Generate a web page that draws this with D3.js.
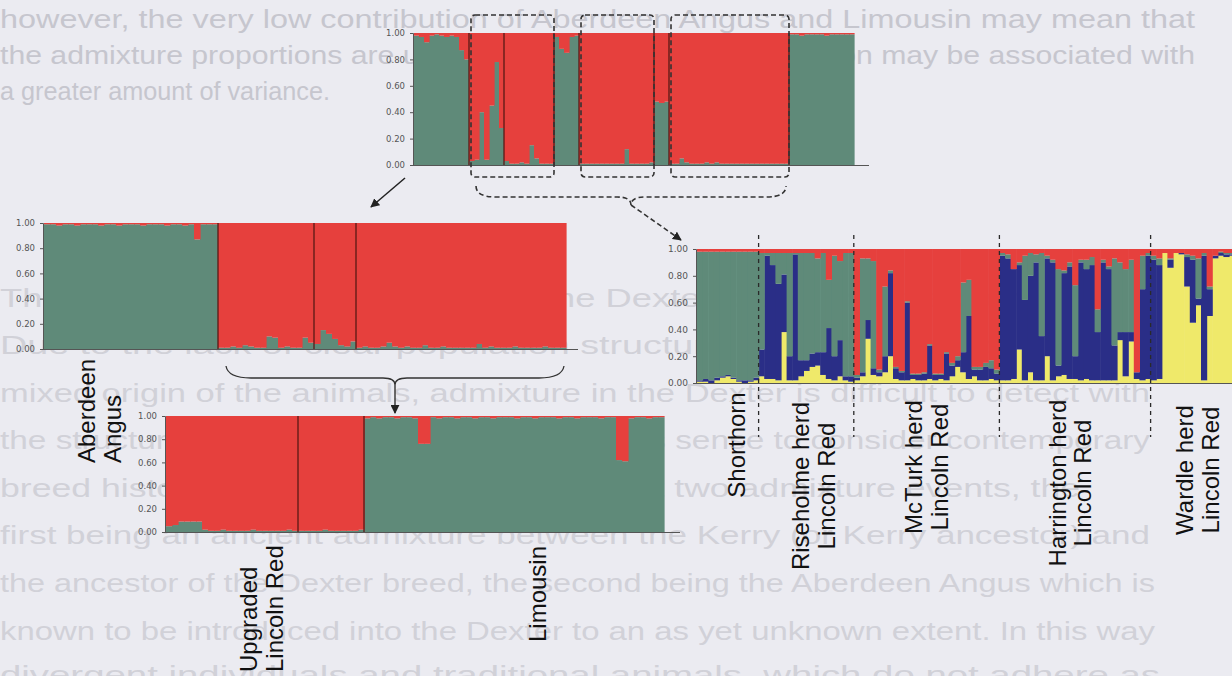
<!DOCTYPE html>
<html>
<head>
<meta charset="utf-8">
<script src="https://cdn.jsdelivr.net/npm/d3@7/dist/d3.min.js"></script>
<style>
  body { margin: 0; background: #ebebf1; }
  svg { display: block; }
</style>
</head>
<body>
<svg id="fig" width="1232" height="676"></svg>
<script>
// ---- data -------------------------------------------------------------
// tick labels shared by all four STRUCTURE plots
var tickLabels = ["0.00", "0.20", "0.40", "0.60", "0.80", "1.00"];

// top plot (K=2): green share per individual, red is the rest
var topGreen = [.98, .97, .93, .98, .99, .98, .97, .98, .97, .87, .80,
  .03, .04, .40, .04, .45, .78, .28,
  .03, .01, .01, .02, .01, .15, .05, .01, .01, .01,
  .97, .88, .85, .97, .98,
  .01, .01, .01, .01, .01, .01, .01, .01, .01, .12, .01, .01, .01, .01, .02,
  .48, .47, .48,
  .01, .01, .05, .02, .01, .01, .01, .02, .01, .02, .01, .01, .01, .01, .01, .01, .01, .01, .01, .01, .01, .01, .01, .01,
  .99, .99, .98, .99, .99, .99, .99, .98, .99, .99, .99, .99, .99];
var topBreaks = [11, 18, 28, 33, 48, 51, 75];

// middle plot: Aberdeen Angus + Lincoln Red herds
var midGreen = [.99, .99, .98, .99, .99, .98, .99, .99, .99, .98, .99, .99, .98, .99, .99,
  .99, .98, .99, .99, .99, .98, .99, .99, .98, .99, .87, .99, .99, .99,
  .01, .01, .02, .01, .03, .02, .01, .01, .10, .09, .01, .02, .01, .01, .09, .05,
  .04, .15, .12, .08, .03, .02, .06,
  .01, .02, .01, .01, .02, .05, .02, .01, .02, .01, .01, .03,
  .01, .01, .02, .01, .01, .01, .01, .01, .04,
  .01, .02, .01, .01, .01, .02, .01, .01, .01, .01, .02, .01, .01, .01];
var midBreaks = [29, 45, 52];

// lower plot: Upgraded Lincoln Red + Limousin
var lowGreen = [.05, .06, .09, .09, .09, .09, .02, .01, .01, .02, .01, .01, .01, .01, .02, .01, .01,
  .01, .01, .01, .02, .01, .01, .01, .01, .01, .02, .01, .01, .01, .01, .01, .02,
  .98, .99, .98, .99, .99, .98, .99, .99, .98, .76, .76, .99, .98, .99, .99, .98, .99, .99,
  .98, .99, .99, .98, .99, .99, .99, .98, .99, .99, .98, .99, .99, .99, .98, .99, .99,
  .98, .99, .99, .99, .98, .99, .99, .62, .61, .98, .99, .99, .98, .99, .99];
var lowBreaks = [22, 33];

// right plot (K=4): Shorthorn, Riseholme, McTurk, Harrington, Wardle
var herdSizes = [11, 17, 26, 27, 18];
var rightYellow = [
  .01, .01, .00, .02, .04, .05, .03, .01, .00, .01, .02,
  .05, .03, .03, .02, .38, .02, .02, .05, .09, .12, .13, .06, .03, .02, .05, .02, .01,
  .02, .05, .33, .06, .05, .08, .20, .03, .02, .02, .03, .02, .02, .03, .02, .03, .02, .05, .12, .08, .03, .05, .02, .02, .03, .02,
  .02, .02, .03, .25, .02, .08, .02, .02, .20, .02, .05, .06, .03, .03, .02, .03, .02, .02, .02, .02, .02, .32, .05, .31, .03, .02, .03,
  .02, .03, .97, .86, .97, .96, .72, .45, .58, .02, .50, .93, .95, .94, .95, .93, .95, .96];
var rightBlue = [
  .01, .02, .02, .02, .01, .01, .01, .01, .02, .01, .02,
  .20, .92, .85, .72, .43, .18, .94, .12, .08, .10, .10, .17, .38, .18, .27, .03, .04,
  .02, .03, .14, .05, .03, .12, .62, .08, .06, .58, .03, .04, .05, .25, .04, .03, .20, .08, .05, .15, .47, .05, .08, .10, .08, .05,
  .93, .91, .82, .63, .60, .72, .88, .33, .73, .88, .08, .76, .84, .17, .88, .82, .86, .36, .88, .83, .26, .06, .33, .07, .05, .68, .92,
  .90, .85, .00, .06, .00, .01, .22, .47, .05, .93, .20, .02, .02, .02, .01, .03, .02, .01];
var rightGreen = [
  .96, .95, .96, .94, .93, .92, .94, .96, .96, .96, .94,
  .72, .02, .09, .23, .16, .77, .01, .80, .80, .75, .70, .74, .36, .75, .59, .92, .92,
  .02, .85, .46, .80, .02, .52, .02, .01, .01, .01, .01, .01, .01, .01, .01, .01, .01, .02, .03, .52, .27, .02, .02, .03, .06, .03,
  .02, .03, .00, .02, .33, .17, .06, .62, .02, .02, .72, .02, .03, .53, .02, .07, .06, .17, .02, .02, .65, .52, .47, .54, .00, .25, .02,
  .03, .05, .00, .01, .00, .00, .02, .03, .30, .02, .02, .00, .01, .01, .01, .01, .01, .01];

var herdLabels = [["Shorthorn"], ["Riseholme herd", "Lincoln Red"], ["McTurk herd", "Lincoln Red"],
  ["Harrington herd", "Lincoln Red"], ["Wardle herd", "Lincoln Red"]];
var breedLabels = [["Aberdeen", "Angus"], ["Upgraded", "Lincoln Red"], ["Limousin"]];

// faint text of the thesis page showing through behind the figure
var pageLines = [
  "however, the very low contribution of Aberdeen Angus and Limousin may mean that",
  "the admixture proportions are underestimated as any contribution may be associated with",
  "a greater amount of variance.",
  "The pattern of admixture found in the Dexter breed is more complex.",
  "Due to the lack of clear population structure within the breed, and the",
  "mixed origin of the animals, admixture in the Dexter is difficult to detect with",
  "the structure methods. In the Dexter it makes sense to consider contemporary",
  "breed history, which would include at least two admixture events, the",
  "first being an ancient admixture between the Kerry (or Kerry ancestor) and",
  "the ancestor of the Dexter breed, the second being the Aberdeen Angus which is",
  "known to be introduced into the Dexter to an as yet unknown extent. In this way",
  "divergent individuals and traditional animals, which do not adhere as"
];

// ---- drawing ------------------------------------------------------------
var colour = { y: "#efe96b", b: "#2b2f87", g: "#5e8a79", r: "#e6403d" };
var tickValues = tickLabels.map(function (t) { return parseFloat(t); });
var svg = d3.select("#fig");

svg.append("rect").attr("width", 1232).attr("height", 676).attr("fill", "#ebebf1");

var defs = svg.append("defs");
defs.append("marker")
  .attr("id", "head").attr("viewBox", "0 0 10 10")
  .attr("refX", 9).attr("refY", 5)
  .attr("markerWidth", 9).attr("markerHeight", 9)
  .attr("markerUnits", "userSpaceOnUse")
  .attr("orient", "auto")
  .append("path").attr("d", "M0,0L10,5L0,10z").attr("fill", "#222");
// the original is a scan, soften the bars a little
defs.append("filter").attr("id", "soft")
  .append("feGaussianBlur").attr("stdDeviation", 0.5);

// page text (bleed through)
var pageY = [28, 64, 100, 307, 354, 402, 449, 497, 544, 592, 640, 684];
var pageW = [1195, 1195, 330, 1100, 1150, 1150, 1150, 1080, 1150, 1155, 1155, 1160];
svg.append("g").selectAll("text").data(pageLines).enter().append("text")
  .attr("x", 0)
  .attr("y", function (d, i) { return pageY[i]; })
  .attr("textLength", function (d, i) { return pageW[i]; })
  .attr("lengthAdjust", "spacingAndGlyphs")
  .attr("font-family", "Liberation Sans, Arial, sans-serif")
  .attr("font-size", 25)
  .attr("fill", function (d, i) { return i < 3 ? "#c6c6ce" : "#d1d1d8"; })
  .text(function (d) { return d; });

function structurePlot(opt) {
  var n = opt.rows.length;
  var x = d3.scaleBand().domain(d3.range(n)).range([opt.x0, opt.x0 + n * opt.bw]);
  var y = d3.scaleLinear().domain([0, 1]).range([opt.y1, opt.y0]);
  var g = svg.append("g");

  var layers = d3.stack().keys(opt.keys)(opt.rows);
  var bars = g.append("g").attr("filter", "url(#soft)");
  bars.selectAll("g.layer").data(layers).enter().append("g")
    .attr("class", "layer")
    .attr("fill", function (d) { return colour[d.key]; })
    .selectAll("rect").data(function (d) { return d; }).enter().append("rect")
    .attr("x", function (d, i) { return x(i); })
    .attr("width", x.bandwidth() + 0.6)
    .attr("y", function (d) { return y(d[1]); })
    .attr("height", function (d) { return Math.max(0, y(d[0]) - y(d[1])); });

  // population separators
  if (opt.solidBreaks) {
    bars.selectAll("line.sep").data(opt.solidBreaks).enter().append("line")
      .attr("x1", function (d) { return x(d); }).attr("x2", function (d) { return x(d); })
      .attr("y1", opt.y0).attr("y2", opt.y1)
      .attr("stroke", "#5a1818").attr("stroke-width", 1.3);
  }

  var axis = d3.axisLeft(y).tickValues(tickValues)
    .tickFormat(function (d, i) { return tickLabels[i]; })
    .tickSize(3).tickPadding(5);
  var ax = g.append("g").attr("transform", "translate(" + (opt.x0 - 1) + ",0)").call(axis);
  ax.select(".domain").attr("stroke", "#555");
  ax.selectAll(".tick line").attr("stroke", "#555");
  ax.selectAll("text").attr("font-family", "DejaVu Sans, sans-serif")
    .attr("font-size", opt.fs || 8.5).attr("fill", "#555");

  // base line runs past the last bar
  g.append("line")
    .attr("x1", opt.x0 - 4).attr("x2", opt.x0 + n * opt.bw + opt.tail)
    .attr("y1", opt.y1 + 0.5).attr("y2", opt.y1 + 0.5)
    .attr("stroke", "#555").attr("stroke-width", 1);
  return x;
}

function twoWay(v) { return { g: v, r: 1 - v }; }

// top overview
var topX = structurePlot({
  rows: topGreen.map(twoWay), keys: ["g", "r"], solidBreaks: topBreaks,
  x0: 414, bw: 5, y0: 33, y1: 165, tail: 15
});

// middle left
var midX = structurePlot({
  rows: midGreen.map(twoWay), keys: ["g", "r"], solidBreaks: midBreaks,
  x0: 44, bw: 6, y0: 223, y1: 349, tail: 12
});

// lower
var lowX = structurePlot({
  rows: lowGreen.map(twoWay), keys: ["g", "r"], solidBreaks: lowBreaks,
  x0: 166, bw: 6, y0: 416, y1: 532, tail: 16
});

// right, K=4
var rightRows = rightYellow.map(function (v, i) {
  return { y: v, b: rightBlue[i], g: rightGreen[i], r: Math.max(0, 1 - v - rightBlue[i] - rightGreen[i]) };
});
var rightX = structurePlot({
  rows: rightRows, keys: ["y", "b", "g", "r"],
  x0: 697, bw: 5.6, y0: 249, y1: 383, tail: 20, fs: 9
});

// dashed herd dividers on the right plot
var herdEnds = d3.cumsum(herdSizes);
svg.append("g").selectAll("line").data(Array.from(herdEnds).slice(0, -1)).enter().append("line")
  .attr("x1", function (d) { return rightX(d); }).attr("x2", function (d) { return rightX(d); })
  .attr("y1", 235).attr("y2", 437)
  .attr("stroke", "#2a2a2a").attr("stroke-width", 1.3).attr("stroke-dasharray", "4,4");

// dashed boxes on the top plot
var boxes = [[11, 28], [33, 48], [51, 75]];
svg.append("g").selectAll("rect").data(boxes).enter().append("rect")
  .attr("x", function (d) { return topX(d[0]) + 2; })
  .attr("width", function (d) { return topX(d[1]) - topX(d[0]) - 2; })
  .attr("y", 15).attr("height", 162).attr("rx", 4)
  .attr("fill", "none").attr("stroke", "#333").attr("stroke-width", 1.6)
  .attr("stroke-dasharray", "5,3");

// dashed brace under the boxes and arrow to the right plot
var bl = topX(11) + 7, br = topX(75) - 3, bc = (bl + br) / 2, by = 197;
svg.append("path")
  .attr("d", "M" + bl + ",186 Q" + bl + "," + by + " " + (bl + 20) + "," + by +
    " L" + (bc - 14) + "," + by + " Q" + bc + "," + by + " " + bc + "," + (by + 8) +
    " Q" + bc + "," + by + " " + (bc + 14) + "," + by +
    " L" + (br - 20) + "," + by + " Q" + br + "," + by + " " + br + ",186")
  .attr("fill", "none").attr("stroke", "#333").attr("stroke-width", 1.6).attr("stroke-dasharray", "5,3");
svg.append("line")
  .attr("x1", bc).attr("y1", by + 8).attr("x2", 681).attr("y2", 240)
  .attr("stroke", "#333").attr("stroke-width", 1.6).attr("stroke-dasharray", "5,3")
  .attr("marker-end", "url(#head)");

// solid arrow from the top plot to the middle plot
svg.append("line")
  .attr("x1", 405).attr("y1", 178).attr("x2", 371).attr("y2", 207)
  .attr("stroke", "#222").attr("stroke-width", 1.5).attr("marker-end", "url(#head)");

// brace under the Lincoln Red part of the middle plot, arrow down
var ml = midX(29) + 8, mr = midX(86) + 4, mc = (ml + mr) / 2, my = 378;
svg.append("path")
  .attr("d", "M" + ml + ",366 Q" + (ml + 2) + "," + my + " " + (ml + 25) + "," + my +
    " L" + (mc - 12) + "," + my + " Q" + mc + "," + my + " " + mc + "," + (my + 7) +
    " Q" + mc + "," + my + " " + (mc + 12) + "," + my +
    " L" + (mr - 25) + "," + my + " Q" + (mr - 2) + "," + my + " " + mr + ",366")
  .attr("fill", "none").attr("stroke", "#333").attr("stroke-width", 1.3);
svg.append("line")
  .attr("x1", mc).attr("y1", my + 7).attr("x2", mc).attr("y2", 413)
  .attr("stroke", "#222").attr("stroke-width", 1.3).attr("marker-end", "url(#head)");

// rotated labels
function vLabel(lines, xs, yAnchor, anchor) {
  var g = svg.append("g");
  lines.forEach(function (t, i) {
    g.append("text")
      .attr("transform", "translate(" + xs[i] + "," + yAnchor + ") rotate(-90)")
      .attr("text-anchor", anchor)
      .attr("font-family", "Liberation Sans, Arial, sans-serif")
      .attr("font-size", 24).attr("fill", "#111")
      .text(t);
  });
}
vLabel(breedLabels[0], [95, 121], 463, "start");
vLabel(breedLabels[1], [257, 283], 672, "start");
vLabel(breedLabels[2], [546], 642, "start");

var herdX = [[745], [809, 835], [922, 948], [1066, 1091], [1193, 1219]];
var herdMid = [445, 486, 467, 483, 470];
herdLabels.forEach(function (lines, i) {
  vLabel(lines, herdX[i], herdMid[i], "middle");
});
</script>
</body>
</html>
